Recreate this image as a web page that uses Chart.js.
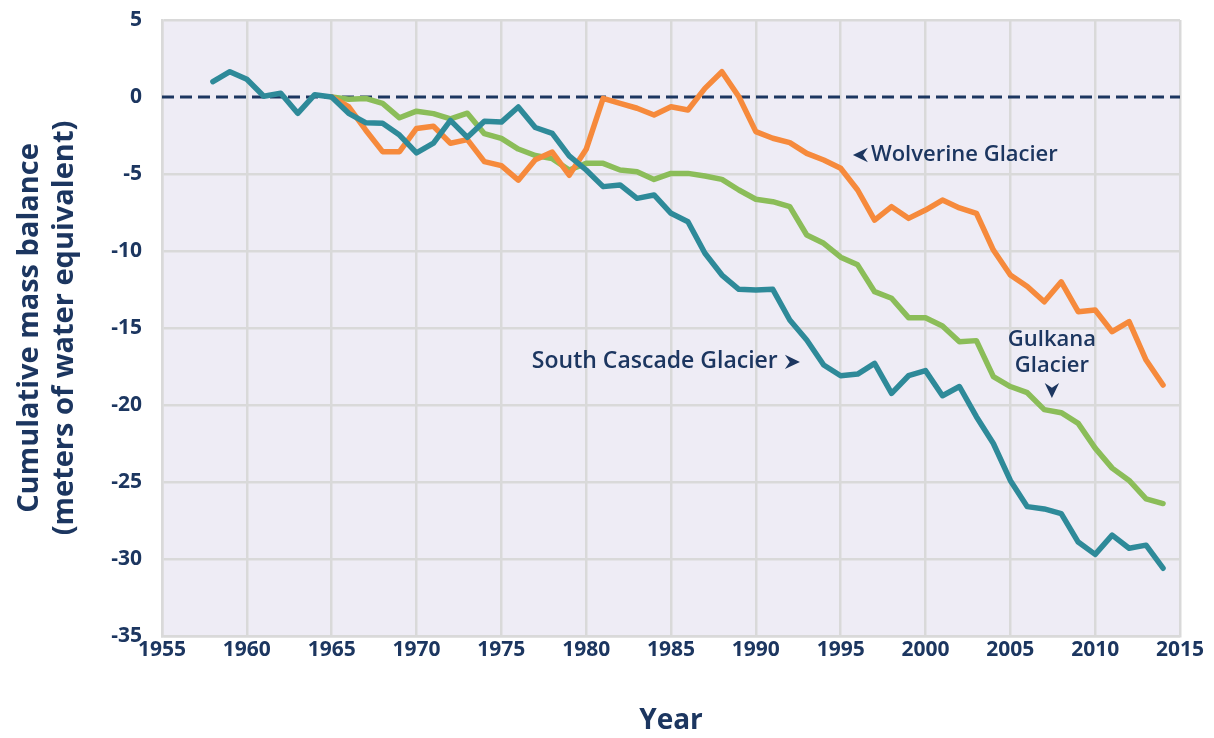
<!DOCTYPE html>
<html>
<head>
<meta charset="utf-8">
<title>Cumulative mass balance of three glaciers</title>
<script src="https://cdn.jsdelivr.net/npm/chart.js@4/dist/chart.umd.min.js"></script>
<style>
	html, body { margin: 0; padding: 0; background: #ffffff; }
	#glacierChart { display: block; }
</style>
</head>
<body>
<canvas id="glacierChart" width="1214" height="738"></canvas>
<script>
// Years of the record
const years = [
	1958, 1959, 1960, 1961, 1962, 1963, 1964, 1965, 1966, 1967,
	1968, 1969, 1970, 1971, 1972, 1973, 1974, 1975, 1976, 1977,
	1978, 1979, 1980, 1981, 1982, 1983, 1984, 1985, 1986, 1987,
	1988, 1989, 1990, 1991, 1992, 1993, 1994, 1995, 1996, 1997,
	1998, 1999, 2000, 2001, 2002, 2003, 2004, 2005, 2006, 2007,
	2008, 2009, 2010, 2011, 2012, 2013, 2014,
];

// Cumulative mass balance (meters of water equivalent)
const southCascade = [
	1.0, 1.64, 1.15, 0.05, 0.24, -1.06, 0.15, 0, -1.06, -1.67,
	-1.71, -2.47, -3.63, -3.0, -1.52, -2.62, -1.57, -1.63, -0.65, -1.98,
	-2.36, -3.82, -4.74, -5.82, -5.71, -6.58, -6.36, -7.55, -8.1, -10.15,
	-11.56, -12.49, -12.53, -12.49, -14.48, -15.78, -17.4, -18.1, -17.99, -17.3,
	-19.24, -18.1, -17.77, -19.4, -18.8, -20.76, -22.5, -24.9, -26.6, -26.75,
	-27.05, -28.9, -29.7, -28.45, -29.3, -29.1, -30.6,
];

const gulkana = [
	null, null, null, null, null, null, null, 0, -0.15, -0.09,
	-0.41, -1.35, -0.92, -1.08, -1.42, -1.05, -2.38, -2.69, -3.38, -3.8,
	-4.0, -4.74, -4.31, -4.31, -4.74, -4.85, -5.35, -4.96, -4.96, -5.13,
	-5.35, -6.04, -6.64, -6.8, -7.12, -8.96, -9.5, -10.4, -10.9, -12.64,
	-13.07, -14.33, -14.33, -14.87, -15.9, -15.82, -18.16, -18.8, -19.2, -20.3,
	-20.5, -21.19, -22.8, -24.1, -24.9, -26.1, -26.4,
];

const wolverine = [
	null, null, null, null, null, null, null, 0, -0.63, -2.14,
	-3.55, -3.55, -2.04, -1.9, -3.0, -2.77, -4.2, -4.46, -5.4, -4.07,
	-3.58, -5.08, -3.4, -0.09, -0.41, -0.73, -1.17, -0.63, -0.84, 0.56,
	1.64, 0.02, -2.25, -2.68, -2.96, -3.66, -4.09, -4.63, -6.04, -7.99,
	-7.12, -7.88, -7.34, -6.69, -7.2, -7.55, -9.94, -11.56, -12.3, -13.3,
	-12.0, -13.94, -13.83, -15.24, -14.59, -17.08, -18.7,
];

// Axis ticks
const xTickValues = [1955, 1960, 1965, 1970, 1975, 1980, 1985, 1990, 1995, 2000, 2005, 2010, 2015];
const yTickValues = [5, 0, -5, -10, -15, -20, -25, -30, -35];

const navy = "#1c3660";
const gridGray = "#d9d9d9";
const fontFamily = "'Open Sans', 'DejaVu Sans', sans-serif";

function ToPoints(values) {
	// Pair every value with its year for the linear x axis
	return years.map(function (year, i) {
		return { x: year, y: values[i] };
	});
}

function DrawArrowhead(ctx, x, y, angle, size) {
	// Notched arrowhead with its tip at (x, y)
	ctx.save();
	ctx.translate(x, y);
	ctx.rotate(angle);
	ctx.beginPath();
	ctx.moveTo(0, 0);
	ctx.lineTo(-size, -size * 0.48);
	ctx.lineTo(-size * 0.68, 0);
	ctx.lineTo(-size, size * 0.48);
	ctx.closePath();
	ctx.fill();
	ctx.restore();
}

// Light lavender plot background
const plotBackground = {
	id: "plotBackground",
	beforeDraw: function (chart) {
		const area = chart.chartArea;
		const ctx = chart.ctx;
		ctx.save();
		ctx.fillStyle = "#eeecf5";
		ctx.fillRect(area.left, area.top, area.right - area.left, area.bottom - area.top);
		ctx.restore();
	},
};

// Glacier names written next to their lines
const glacierLabels = {
	id: "glacierLabels",
	afterDatasetsDraw: function (chart) {
		const ctx = chart.ctx;
		const x = chart.scales.x;
		const y = chart.scales.y;

		ctx.save();
		ctx.fillStyle = navy;
		ctx.textBaseline = "middle";

		// Wolverine: arrow pointing left, then the name
		ctx.font = "600 22px " + fontFamily;
		const wx = x.getPixelForValue(1995.72);
		const wy = y.getPixelForValue(-3.77);
		DrawArrowhead(ctx, wx, wy, Math.PI, 15);
		ctx.textAlign = "left";
		ctx.fillText("Wolverine Glacier", wx + 18, wy);

		// South Cascade: name, then arrow pointing right
		ctx.font = "600 23px " + fontFamily;
		const sy = y.getPixelForValue(-17.2);
		ctx.fillText("South Cascade Glacier", x.getPixelForValue(1976.8), sy);
		DrawArrowhead(ctx, x.getPixelForValue(1992.6), sy, 0, 15);

		// Gulkana: two lines with a downward arrow under them
		ctx.font = "600 22px " + fontFamily;
		const gx = x.getPixelForValue(2007.45);
		ctx.textAlign = "center";
		ctx.fillText("Gulkana", gx, y.getPixelForValue(-15.78));
		ctx.fillText("Glacier", gx, y.getPixelForValue(-17.47));
		DrawArrowhead(ctx, gx, y.getPixelForValue(-19.55), Math.PI / 2, 15);

		ctx.restore();
	},
};

const glacierChart = new Chart(document.getElementById("glacierChart").getContext("2d"), {
	type: "line",
	data: {
		datasets: [
			{
				label: "South Cascade Glacier",
				data: ToPoints(southCascade),
				borderColor: "#2e8a99",
				borderWidth: 5.5,
			},
			{
				label: "Wolverine Glacier",
				data: ToPoints(wolverine),
				borderColor: "#f68a3c",
				borderWidth: 5.5,
			},
			{
				label: "Gulkana Glacier",
				data: ToPoints(gulkana),
				borderColor: "#8bbd59",
				borderWidth: 5.5,
			},
			{
				// Dashed zero reference line
				label: "Zero",
				data: [
					{ x: xTickValues[0], y: 0 },
					{ x: xTickValues[xTickValues.length - 1], y: 0 },
				],
				borderColor: navy,
				borderWidth: 3,
				borderDash: [12, 6],
				borderCapStyle: "butt",
			},
		],
	},
	options: {
		responsive: false,
		animation: false,
		parsing: false,
		elements: {
			point: { radius: 0, hoverRadius: 0 },
			line: { tension: 0, borderCapStyle: "round", borderJoinStyle: "round", fill: false },
		},
		layout: {
			padding: { top: 20, right: 34, bottom: 0, left: 0 },
		},
		plugins: {
			legend: { display: false },
			tooltip: { enabled: false },
		},
		scales: {
			x: {
				type: "linear",
				min: xTickValues[0],
				max: xTickValues[xTickValues.length - 1],
				afterBuildTicks: function (scale) {
					scale.ticks = xTickValues.map(function (v) {
						return { value: v };
					});
				},
				afterFit: function (scale) {
					scale.height = 102;
				},
				grid: {
					color: gridGray,
					lineWidth: 2.5,
					drawTicks: false,
				},
				border: { color: gridGray, width: 2.5 },
				ticks: {
					color: navy,
					padding: 1,
					maxRotation: 0,
					font: { family: fontFamily, size: 21, weight: "bold" },
					callback: function (value) {
						return String(value);
					},
				},
				title: {
					display: true,
					text: "Year",
					color: navy,
					padding: { top: 0, bottom: 0 },
					font: { family: fontFamily, size: 28, weight: "bold", lineHeight: 1.2 },
				},
			},
			y: {
				min: yTickValues[yTickValues.length - 1],
				max: yTickValues[0],
				afterBuildTicks: function (scale) {
					scale.ticks = yTickValues.slice().reverse().map(function (v) {
						return { value: v };
					});
				},
				afterFit: function (scale) {
					// Fixed width, and no extra room above the plot for the top label
					scale.width = 162;
					scale.paddingTop = 0;
					scale.paddingBottom = 0;
				},
				grid: {
					// The zero line is drawn dashed by its own dataset
					color: function (context) {
						return context.tick && context.tick.value === 0 ? "rgba(0,0,0,0)" : gridGray;
					},
					lineWidth: 2.5,
					drawTicks: false,
				},
				border: { color: gridGray, width: 2.5 },
				ticks: {
					color: navy,
					padding: 20,
					font: { family: fontFamily, size: 21, weight: "bold" },
				},
				title: {
					display: true,
					text: ["Cumulative mass balance", "(meters of water equivalent)"],
					color: navy,
					padding: { top: 12, bottom: 0 },
					font: { family: fontFamily, size: 29, weight: "bold", lineHeight: 1.22 },
				},
			},
		},
	},
	plugins: [plotBackground, glacierLabels],
});
</script>
</body>
</html>
